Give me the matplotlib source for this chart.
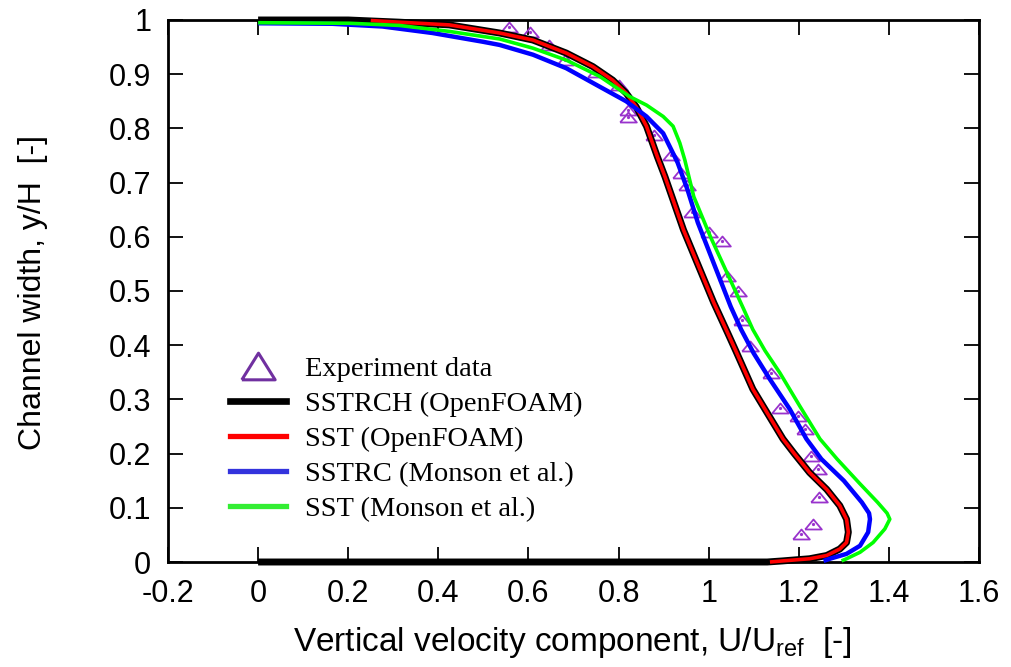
import matplotlib
matplotlib.use("Agg")
import matplotlib.pyplot as plt
from matplotlib.lines import Line2D

plt.rcParams['font.family'] = ['Liberation Sans', 'DejaVu Sans']
plt.rcParams['mathtext.fontset'] = 'custom'
plt.rcParams['mathtext.rm'] = 'Liberation Sans'
plt.rcParams['mathtext.it'] = 'Liberation Sans'

# Experiment data (triangles)
exp_u = [0.556, 0.604, 0.645, 0.682, 0.749, 0.800, 0.822, 0.822, 0.878, 0.916,
         0.938, 0.953, 0.964, 1.000, 1.030, 1.040, 1.064, 1.075, 1.091, 1.139,
         1.158, 1.198, 1.213, 1.227, 1.242, 1.244, 1.231, 1.204]
exp_y = [0.987, 0.978, 0.954, 0.926, 0.904, 0.880, 0.834, 0.821, 0.788, 0.750,
         0.718, 0.695, 0.646, 0.609, 0.593, 0.527, 0.500, 0.447, 0.398, 0.349,
         0.285, 0.269, 0.245, 0.195, 0.171, 0.120, 0.070, 0.052]

# SSTRCH (OpenFOAM)  - includes the wall segments at y=1 and y=0
sstrch_u = [0.0, 0.20, 0.313, 0.424, 0.536, 0.61, 0.684, 0.743, 0.787, 0.817, 0.839,
            0.862, 0.886, 0.903, 0.944, 0.978, 1.011, 1.042, 1.060, 1.098, 1.130,
            1.165, 1.190, 1.224, 1.262, 1.291, 1.306, 1.31, 1.306, 1.291, 1.262,
            1.224, 1.164, 1.13, 0.0]
sstrch_y = [1.0, 1.0, 0.996, 0.991, 0.976, 0.963, 0.939, 0.914, 0.889, 0.865, 0.840,
            0.804, 0.748, 0.711, 0.613, 0.545, 0.479, 0.423, 0.390, 0.319, 0.275,
            0.227, 0.200, 0.165, 0.134, 0.104, 0.079, 0.055, 0.036, 0.024, 0.012,
            0.006, 0.002, 0.0, 0.0]

# SST (OpenFOAM)
sst_of_u = [0.25, 0.313, 0.424, 0.536, 0.61, 0.684, 0.743, 0.787, 0.817, 0.839,
            0.862, 0.886, 0.903, 0.944, 0.978, 1.011, 1.042, 1.060, 1.098, 1.130,
            1.165, 1.190, 1.224, 1.262, 1.291, 1.306, 1.31, 1.306, 1.291, 1.262,
            1.224, 1.164, 1.136]
sst_of_y = [0.999, 0.996, 0.991, 0.976, 0.963, 0.939, 0.914, 0.889, 0.865, 0.840,
            0.804, 0.748, 0.711, 0.613, 0.545, 0.479, 0.423, 0.390, 0.319, 0.275,
            0.227, 0.200, 0.165, 0.134, 0.104, 0.079, 0.055, 0.036, 0.024, 0.012,
            0.006, 0.002, 0.0]

# SSTRC (Monson et al.)
sstrc_u = [0.0, 0.165, 0.276, 0.387, 0.498, 0.536, 0.61, 0.684, 0.758, 0.817, 0.862,
           0.899, 0.921, 0.931, 0.953, 0.976, 1.049, 1.072, 1.100, 1.136, 1.180,
           1.217, 1.250, 1.300, 1.340, 1.356, 1.358, 1.354, 1.336, 1.306, 1.269,
           1.255]
sstrc_y = [0.994, 0.993, 0.988, 0.976, 0.960, 0.954, 0.936, 0.911, 0.877, 0.850,
           0.822, 0.791, 0.754, 0.737, 0.687, 0.626, 0.471, 0.429, 0.385, 0.337,
           0.282, 0.227, 0.190, 0.150, 0.110, 0.090, 0.079, 0.055, 0.030, 0.015,
           0.006, 0.002]

# SST (Monson et al.)
sst_m_u = [0.0, 0.202, 0.313, 0.424, 0.536, 0.61, 0.684, 0.758, 0.824, 0.862, 0.899,
           0.921, 0.936, 0.947, 0.967, 1.004, 1.078, 1.098, 1.125, 1.158, 1.202,
           1.247, 1.285, 1.335, 1.375, 1.396, 1.402, 1.391, 1.365, 1.336, 1.306,
           1.295]
sst_m_y = [0.995, 0.994, 0.990, 0.979, 0.965, 0.948, 0.926, 0.896, 0.859, 0.843,
           0.822, 0.804, 0.773, 0.742, 0.674, 0.600, 0.466, 0.429, 0.390, 0.349,
           0.288, 0.227, 0.190, 0.145, 0.110, 0.090, 0.079, 0.061, 0.036, 0.018,
           0.006, 0.002]

x_ticks = [-0.2, 0, 0.2, 0.4, 0.6, 0.8, 1.0, 1.2, 1.4, 1.6]
x_labels = ["-0.2", "0", "0.2", "0.4", "0.6", "0.8", "1", "1.2", "1.4", "1.6"]
y_ticks = [0, 0.1, 0.2, 0.3, 0.4, 0.5, 0.6, 0.7, 0.8, 0.9, 1.0]
y_labels = ["0", "0.1", "0.2", "0.3", "0.4", "0.5", "0.6", "0.7", "0.8", "0.9", "1"]

tri = [(-1, -0.6), (1, -0.6), (0, 0.6), (-1, -0.6)]
tri_leg = [(-1, -0.8), (1, -0.8), (0, 0.8), (-1, -0.8)]
purple = '#9933cc'

fig = plt.figure(figsize=(10.11, 6.67), dpi=100)
ax = fig.add_axes([168 / 1011, 105 / 667, 811 / 1011, 542 / 667])

ax.plot(exp_u, exp_y, ls='none', marker=tri, ms=12, mfc='none', mec=purple, mew=1.3, zorder=2)
ax.plot(exp_u, exp_y, ls='none', marker='o', ms=1.3, color=purple, zorder=2)

line_kw = dict(clip_on=False, solid_joinstyle='round', solid_capstyle='butt')
ax.plot(sstrch_u, sstrch_y, color='black', lw=5.0, zorder=3, **line_kw)
ax.plot(sst_of_u, sst_of_y, color='red', lw=2.6, zorder=4, **line_kw)
ax.plot(sstrc_u, sstrc_y, color='#0000ff', lw=3.2, zorder=5, **line_kw)
ax.plot(sst_m_u, sst_m_y, color='#00ff00', lw=2.6, zorder=6, **line_kw)

ax.set_xlim(-0.2, 1.6)
ax.set_ylim(0, 1)
ax.set_xticks(x_ticks)
ax.set_xticklabels(x_labels)
ax.set_yticks(y_ticks)
ax.set_yticklabels(y_labels)
ax.tick_params(direction='in', length=11, width=1.3, labelsize=22, pad=12,
               top=True, right=True)
for sp in ax.spines.values():
    sp.set_linewidth(2.0)

fig.text(572 / 1011, 1 - 643 / 667, r"Vertical velocity component, U/U$_{\mathrm{ref}}$  [-]",
         fontsize=24, ha='center', va='center')
fig.text(33 / 1011, 1 - 293 / 667, "Channel width, y/H  [-]", fontsize=23,
         ha='center', va='center', rotation=90)

handles = [
    Line2D([], [], ls='none', marker=tri_leg, ms=24, mfc='none', mec='#7030a0', mew=2.2),
    Line2D([], [], color='black', lw=4.8),
    Line2D([], [], color='red', lw=3.8),
    Line2D([], [], color='#3333dd', lw=3.8),
    Line2D([], [], color='#33ee33', lw=3.8),
]
labels = ["Experiment data", "SSTRCH (OpenFOAM)", "SST (OpenFOAM)",
          "SSTRC (Monson et al.)", "SST (Monson et al.)"]
ax.legend(handles, labels, loc='upper left', bbox_to_anchor=(230 / 1011, 1 - 356 / 667),
          bbox_transform=fig.transFigure, frameon=False, borderpad=0, borderaxespad=0,
          handlelength=1.95, handletextpad=0.7, labelspacing=0.32,
          prop={'family': ['Liberation Serif', 'DejaVu Serif'], 'size': 20.5})

plt.savefig("out.png", dpi=100)
plt.close(fig)
